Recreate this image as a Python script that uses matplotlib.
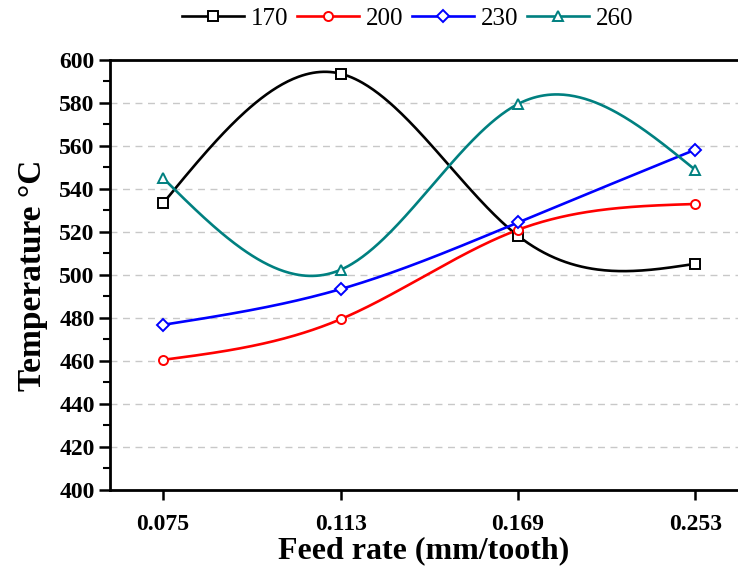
import numpy as np
import matplotlib
matplotlib.use("Agg")
import matplotlib.pyplot as plt
from matplotlib.ticker import MultipleLocator

plt.rcParams['font.family'] = ['Liberation Serif', 'DejaVu Serif']

feed_labels = ["0.075", "0.113", "0.169", "0.253"]
series_names = ["170", "200", "230", "260"]
t170 = [533.4, 593.6, 518.2, 505.2]
t200 = [460.5, 479.4, 521.0, 533.0]
t230 = [476.8, 493.4, 524.4, 558.3]
t260 = [545.0, 502.4, 579.5, 548.8]
colors = ["#000000", "#FF0000", "#0000FF", "#008080"]
markers = ["s", "o", "D", "^"]


def natural_spline(x, y, xs):
    x = np.asarray(x, float); y = np.asarray(y, float)
    n = len(x)
    h = np.diff(x)
    A = np.zeros((n, n)); b = np.zeros(n)
    A[0, 0] = 1; A[-1, -1] = 1
    for i in range(1, n - 1):
        A[i, i - 1] = h[i - 1]
        A[i, i] = 2 * (h[i - 1] + h[i])
        A[i, i + 1] = h[i]
        b[i] = 6 * ((y[i + 1] - y[i]) / h[i] - (y[i] - y[i - 1]) / h[i - 1])
    M = np.linalg.solve(A, b)
    out = np.empty_like(xs)
    for k, xv in enumerate(xs):
        i = min(max(np.searchsorted(x, xv) - 1, 0), n - 2)
        t1 = x[i + 1] - xv; t0 = xv - x[i]
        out[k] = (M[i] * t1 ** 3 / (6 * h[i]) + M[i + 1] * t0 ** 3 / (6 * h[i])
                  + (y[i] / h[i] - M[i] * h[i] / 6) * t1
                  + (y[i + 1] / h[i] - M[i + 1] * h[i] / 6) * t0)
    return out


fig = plt.figure(figsize=(7.38, 5.71), dpi=100)
ax = fig.add_axes([0.149, 0.142, 0.851, 0.753])

xpos = np.arange(len(feed_labels))
xs = np.linspace(xpos[0], xpos[-1], 300)
for name, vals, c, m in zip(series_names, [t170, t200, t230, t260], colors, markers):
    ms = 6.5 if m != "D" else 6
    ax.plot(xs, natural_spline(xpos, vals, xs), color=c, lw=1.9, zorder=3)
    ax.plot(xpos, vals, linestyle='none', marker=m, markersize=ms,
            markerfacecolor='white', markeredgecolor=c, markeredgewidth=1.4, zorder=4)
    ax.plot([], [], color=c, lw=1.9, marker=m, markersize=ms,
            markerfacecolor='white', markeredgecolor=c, markeredgewidth=1.4, label=name)

ax.set_xlim(-0.30, 3.24)
ax.set_ylim(400, 600)
ax.set_xticks(xpos)
ax.set_xticklabels(feed_labels)
ax.yaxis.set_major_locator(MultipleLocator(20))
ax.yaxis.set_minor_locator(MultipleLocator(10))
ax.tick_params(axis='both', which='major', direction='out', length=8, width=1.8,
               labelsize=17, pad=3)
ax.tick_params(axis='x', which='major', length=7, pad=10)
ax.tick_params(axis='y', which='minor', direction='out', length=5, width=1.5)
for lab in ax.get_xticklabels() + ax.get_yticklabels():
    lab.set_fontweight('bold')

ax.grid(axis='y', which='major', linestyle=(0, (5, 4)), color='#c8c8c8', lw=1.0, zorder=0)
ax.spines['right'].set_visible(False)
for s in ['left', 'bottom', 'top']:
    ax.spines[s].set_linewidth(2.0)

ax.set_xlabel("Feed rate (mm/tooth)", fontsize=23, fontweight='bold', labelpad=1)
ax.set_ylabel("Temperature °C", fontsize=24, fontweight='bold', labelpad=8)

fig.legend(loc='center', bbox_to_anchor=(0.552, 0.967), ncol=4, frameon=False,
           fontsize=18, handlelength=2.5, handletextpad=0.25, columnspacing=0.35,
           borderaxespad=0)

fig.savefig("out.png", dpi=100)
